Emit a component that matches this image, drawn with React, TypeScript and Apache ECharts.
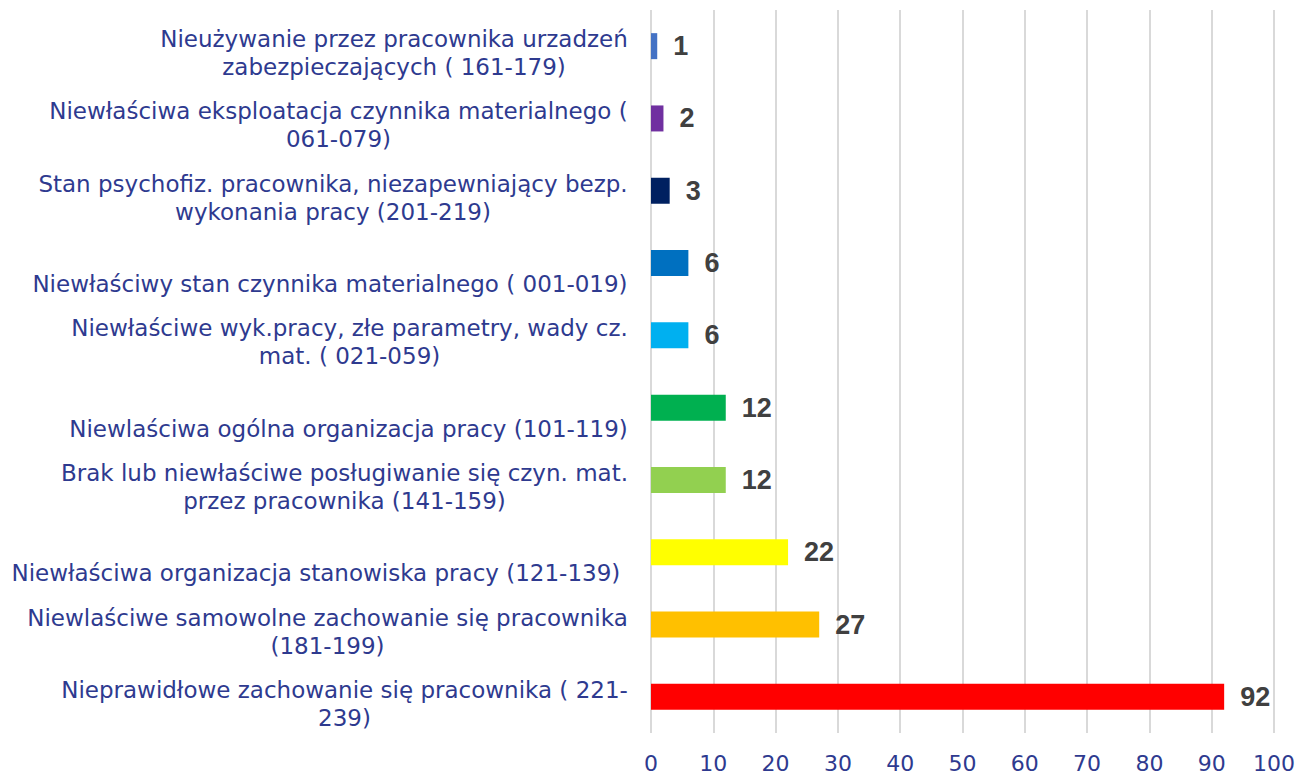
import React, { useEffect, useRef } from "react";
import * as echarts from "echarts";

const categoryLines: string[][] = [
  ["Nieużywanie przez pracownika urzadzeń", "zabezpieczających ( 161-179)"],
  ["Niewłaściwa eksploatacja czynnika materialnego (", "061-079)"],
  ["Stan psychofiz. pracownika, niezapewniający bezp.", "wykonania pracy (201-219)"],
  ["Niewłaściwy stan czynnika materialnego ( 001-019)"],
  ["Niewłaściwe wyk.pracy, złe parametry, wady cz.", "mat. ( 021-059)"],
  ["Niewlaściwa ogólna organizacja pracy (101-119)"],
  ["Brak lub niewłaściwe posługiwanie się czyn. mat.", "przez pracownika (141-159)"],
  ["Niewłaściwa organizacja stanowiska pracy (121-139) "],
  ["Niewlaściwe samowolne zachowanie się pracownika", "(181-199)"],
  ["Nieprawidłowe zachowanie się pracownika ( 221-", "239)"],
];
const categories: string[] = categoryLines.map((l) => l.join("\n"));
const values: number[] = [1, 2, 3, 6, 6, 12, 12, 22, 27, 92];
const barColors: string[] = [
  "#4472C4",
  "#7030A0",
  "#002060",
  "#0070C0",
  "#00B0F0",
  "#00B050",
  "#92D050",
  "#FFFF00",
  "#FFC000",
  "#FF0000",
];
const xTicks = { min: 0, max: 100, interval: 10 };

const LABEL_BLUE = "#2E3A8F";
const CAT_FONT_SIZE = 23;
const CAT_FONT = "DejaVu Sans";

function measure(text: string): number {
  const c = document.createElement("canvas").getContext("2d");
  if (!c) return text.length * CAT_FONT_SIZE * 0.6;
  c.font = `${CAT_FONT_SIZE}px "${CAT_FONT}"`;
  return c.measureText(text).width;
}

export default function App() {
  const ref = useRef<HTMLDivElement>(null);
  useEffect(() => {
    if (!ref.current) return;
    const chart = echarts.init(ref.current, undefined, { renderer: "svg" });
    const rich: Record<string, any> = {};
    categoryLines.forEach((lines, i) => {
      const w = Math.ceil(Math.max(...lines.map(measure)));
      rich["c" + i] = {
        width: w,
        align: "center",
        color: LABEL_BLUE,
        fontFamily: CAT_FONT,
        fontSize: CAT_FONT_SIZE,
        lineHeight: 28,
      };
    });
    chart.setOption({
      animation: false,
      grid: { left: 651, right: 31, top: 10, bottom: 43, containLabel: false },
      xAxis: {
        type: "value",
        min: xTicks.min,
        max: xTicks.max,
        interval: xTicks.interval,
        axisLine: { show: false },
        axisTick: { show: false },
        splitLine: { show: true, lineStyle: { color: "#D9D9D9", width: 2 } },
        axisLabel: {
          color: LABEL_BLUE,
          fontFamily: CAT_FONT,
          fontSize: 22,
          margin: 19,
        },
      },
      yAxis: {
        type: "category",
        inverse: true,
        data: categories,
        axisLine: { show: false },
        axisTick: { show: false },
        axisLabel: {
          interval: 0,
          margin: 23,
          align: "right",
          verticalAlign: "bottom",
          padding: [0, 0, -35, 0],
          formatter: (v: string, idx: number) =>
            v
              .split("\n")
              .map((l) => `{c${idx}|${l}}`)
              .join("\n"),
          rich,
        },
      },
      series: [
        {
          type: "bar",
          barWidth: 26,
          data: values.map((v, i) => ({ value: v, itemStyle: { color: barColors[i] } })),
          label: {
            show: true,
            position: "right",
            distance: 16,
            color: "#404040",
            fontFamily: "Liberation Sans",
            fontWeight: "bold",
            fontSize: 27,
          },
        },
      ],
    });
    return () => chart.dispose();
  }, []);
  return (
    <div
      ref={ref}
      style={{ position: "absolute", left: 0, top: 0, width: 1305, height: 776 }}
    />
  );
}
